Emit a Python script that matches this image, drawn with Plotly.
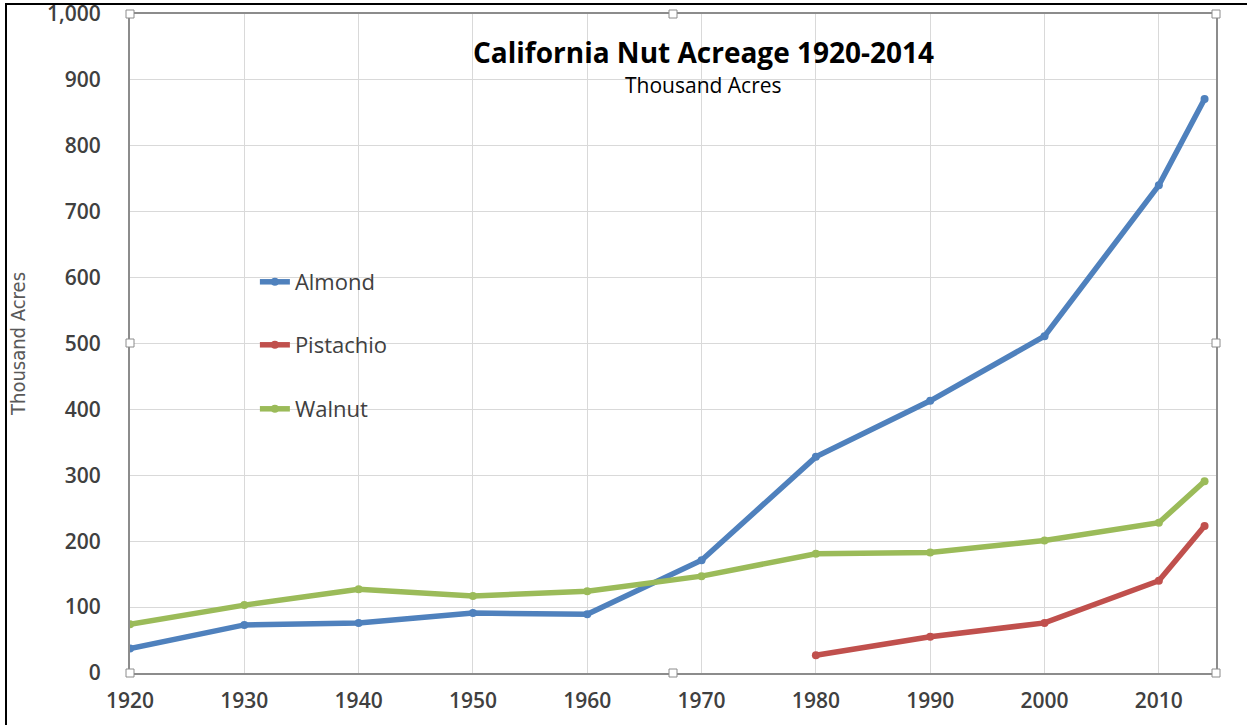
import plotly.graph_objects as go

years = [1920, 1930, 1940, 1950, 1960, 1970, 1980, 1990, 2000, 2010, 2014]
almond = [37, 73, 76, 91, 89, 171, 328, 413, 511, 740, 871]
pistachio_years = [1980, 1990, 2000, 2010, 2014]
pistachio = [27, 55, 76, 140, 223]
walnut = [74, 103, 127, 117, 124, 147, 181, 183, 201, 228, 291]

colors = {"Almond": "#4F81BD", "Pistachio": "#C0504D", "Walnut": "#9BBB59"}

fig = go.Figure()
series = [("Almond", years, almond, "legend"),
          ("Pistachio", pistachio_years, pistachio, "legend2"),
          ("Walnut", years, walnut, "legend3")]
for name, xs, ys, lg in series:
    fig.add_trace(go.Scatter(
        x=xs, y=ys, name=name, mode="lines+markers",
        line=dict(color=colors[name], width=5.5),
        marker=dict(color=colors[name], size=8),
        legend=lg,
    ))

tick_font = dict(family="Open Sans, Liberation Sans, sans-serif", size=21, color="#404040", weight=600)
leg_font = dict(family="Open Sans, Liberation Sans, sans-serif", size=22, color="#404040", weight=500)

def leg(y):
    return dict(x=0.115, y=y, xanchor="left", yanchor="middle", bgcolor="rgba(0,0,0,0)",
                font=leg_font, itemwidth=30)

fig.update_layout(
    width=1247, height=725,
    margin=dict(l=130, r=31, t=14, b=52, autoexpand=False),
    paper_bgcolor="white", plot_bgcolor="white",
    showlegend=True,
    legend=leg((673 - 282) / 659),
    legend2=leg((673 - 345) / 659),
    legend3=leg((673 - 409) / 659),
    xaxis=dict(range=[1920, 2015], tickmode="array", tickvals=list(range(1920, 2011, 10)),
               showgrid=True, gridcolor="#D9D9D9", gridwidth=1, automargin=False,
               showline=True, linecolor="#8C8C8C", linewidth=2, mirror=True,
               zeroline=False, ticks="", tickfont=tick_font, ticklabelstandoff=8,
               ticklabeloverflow="allow"),
    yaxis=dict(range=[0, 1000], tickmode="array", tickvals=list(range(0, 1001, 100)),
               tickformat=",", showgrid=True, gridcolor="#D9D9D9", gridwidth=1, automargin=False,
               showline=True, linecolor="#8C8C8C", linewidth=2, mirror=True,
               zeroline=False, ticks="", tickfont=tick_font, ticklabelstandoff=23,
               ticklabeloverflow="allow",
               title=dict(text="Thousand Acres", standoff=16,
                          font=dict(family="Liberation Sans Narrow, DejaVu Sans Condensed, sans-serif",
                                    size=20, color="#595959"))),
)

fig.add_annotation(xref="paper", yref="paper", x=(703 - 130) / 1086, y=(673 - 52) / 659,
                   text="<b>California Nut Acreage 1920-2014</b>", showarrow=False,
                   font=dict(family="Open Sans, Liberation Sans, sans-serif", size=28, color="black"),
                   xanchor="center", yanchor="middle")
fig.add_annotation(xref="paper", yref="paper", x=(703 - 130) / 1086, y=(673 - 85) / 659,
                   text="Thousand Acres", showarrow=False,
                   font=dict(family="Open Sans, Liberation Sans, sans-serif", size=21, color="black"),
                   xanchor="center", yanchor="middle")

def px(xp):
    return (xp - 130) / 1086
def py(yp):
    return (673 - yp) / 659

# outer chart border
fig.add_shape(type="rect", xref="paper", yref="paper", x0=px(6), x1=px(1260), y0=py(4), y1=py(740),
              line=dict(color="black", width=2), fillcolor="rgba(0,0,0,0)", layer="above")

# selection handles
for hx, hy in [(130, 14), (673, 14), (1216, 14), (130, 343), (1216, 343), (130, 673), (673, 673), (1216, 673)]:
    fig.add_shape(type="rect", xref="paper", yref="paper",
                  x0=px(hx - 4), x1=px(hx + 4), y0=py(hy + 4), y1=py(hy - 4),
                  line=dict(color="#8C8C8C", width=1), fillcolor="white", layer="above")

fig.write_html("out.html", config={"displayModeBar": False},
               post_script="document.body.style.margin='0';document.body.style.padding='0';"
                           "document.documentElement.style.overflow='hidden';")
